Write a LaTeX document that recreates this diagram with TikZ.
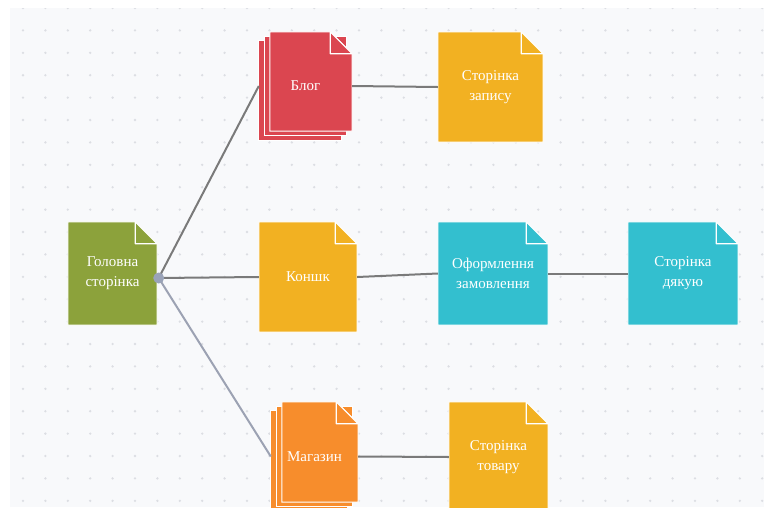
\documentclass[tikz,border=0pt]{standalone}
\usepackage{fontspec}
\setmainfont{Liberation Serif}
\usetikzlibrary{calc}

\definecolor{bgpaper}{HTML}{F8F9FB}
\definecolor{dotgrey}{HTML}{DCDEE3}
\definecolor{greenpage}{HTML}{8CA23B}
\definecolor{redpage}{HTML}{DB4650}
\definecolor{yellowpage}{HTML}{F2B122}
\definecolor{tealpage}{HTML}{33BFCF}
\definecolor{orangepage}{HTML}{F78D2C}
\definecolor{linegrey}{HTML}{7A7A7A}
\definecolor{bluegrey}{HTML}{9CA2B3}
\definecolor{joingrey}{HTML}{9AA3B8}

\pgfdeclarelayer{dots}
\pgfdeclarelayer{paper}
\pgfsetlayers{dots,paper,main}

\begin{document}
\begin{tikzpicture}
	[x=1pt,y=-1pt,
	 every node/.style={rectangle, draw=none, inner sep=0pt, align=center, text=white, font=\rmfamily\fontsize{15}{20}\selectfont},
	 docpage/.style 2 args={minimum width=#1pt, minimum height=#2pt},
	 link/.style={draw=linegrey, line width=2pt}]
	\useasboundingbox (0,0) rectangle (764,507);

	\node[docpage={89}{103}] (home) at (112.5,273.5) {Головна\\сторінка};
	\node[docpage={93}{108}] (blog) at (305.5,86) {Блог};
	\node[docpage={105}{110}] (post) at (490.5,87) {Сторінка\\запису};
	\node[docpage={98}{110}] (cart) at (308,277) {Коншк};
	\node[docpage={110}{103}] (order) at (493,273.5) {Оформлення\\замовлення};
	\node[docpage={110}{103}] (thanks) at (683,273.5) {Сторінка\\дякую};
	\node[docpage={87}{109}] (shop) at (314.5,456.5) {Магазин};
	\node[docpage={99}{110}] (item) at (498.5,457) {Сторінка\\товару};
	\coordinate (j) at ([shift={(1.5pt,-4.5pt)}]home.east);

	% dotted background
	\begin{pgfonlayer}{dots}
		\begin{scope}
			\clip (10,8) rectangle (764,507);
			\fill[bgpaper] (10,8) rectangle (764,507);
			\foreach \i in {0,...,33}
				\foreach \k in {0,...,22}
					\fill[dotgrey] (23+22.4*\i,8+22.4*\k) circle (1.3pt);
		\end{scope}
	\end{pgfonlayer}

	% pages
	\begin{pgfonlayer}{paper}
		\foreach \n/\c in {blog/redpage,shop/orangepage} {
			\filldraw[fill=\c, draw=white, line width=1pt] (\n.south west) rectangle ([shift={(-11pt,-9pt)}]\n.north east);
			\filldraw[fill=\c, draw=white, line width=1pt] ([shift={(5.5pt,4.5pt)}]\n.south west) rectangle ([shift={(-5.5pt,-4.5pt)}]\n.north east);
		}
		\foreach \n/\c/\dx/\dy in {home/greenpage/0/0,blog/redpage/11/9,post/yellowpage/0/0,cart/yellowpage/0/0,
				order/tealpage/0/0,thanks/tealpage/0/0,shop/orangepage/11/9,item/yellowpage/0/0} {
			\filldraw[fill=\c, draw=white, line width=1pt] ([shift={(\dx pt,\dy pt)}]\n.south west) |- ([xshift=-22pt]\n.north east)
				-- ([yshift=-22pt]\n.north east) -- ([yshift=\dy pt]\n.south east) -- cycle;
			\filldraw[fill=\c, draw=white, line width=1.2pt, line join=round] ([xshift=-22pt]\n.north east)
				-- ([shift={(-22pt,-22pt)}]\n.north east) -- ([yshift=-22pt]\n.north east) -- cycle;
		}
	\end{pgfonlayer}

	\foreach \from/\to in {j/blog.west,j/cart.west,blog.east/post.west,cart.east/order.west,order.east/thanks.west,shop.east/item.west}
		\draw[link] (\from) -- (\to);
	\draw[link, draw=bluegrey] (j) -- (shop.west);
	\fill[joingrey] (j) circle (5.5pt);
\end{tikzpicture}
\end{document}
